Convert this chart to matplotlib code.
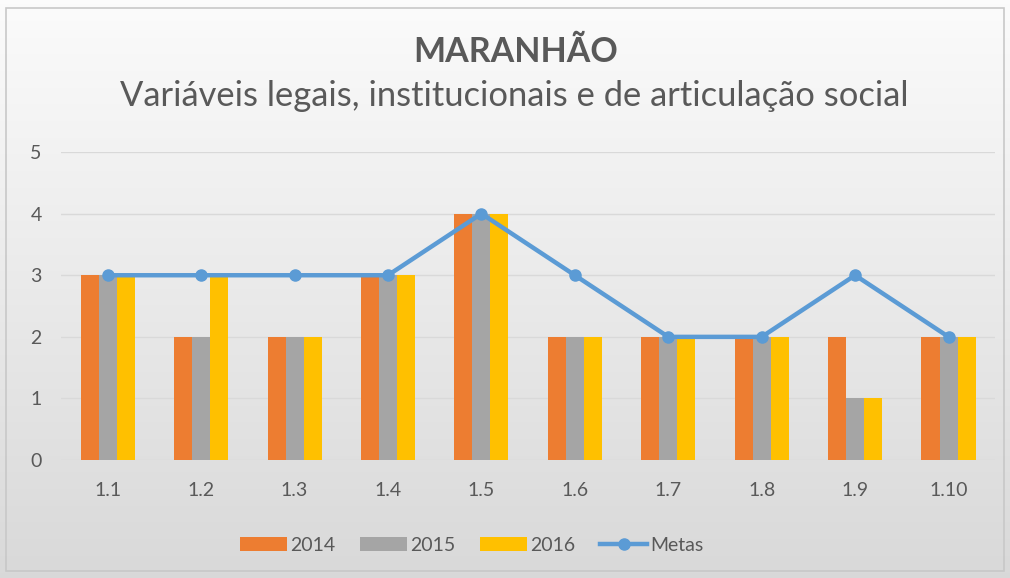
import matplotlib.pyplot as plt
import numpy as np
from matplotlib.patches import Rectangle

plt.rcParams['font.family'] = ['Lato', 'DejaVu Sans']

# data
categories = ['1.1', '1.2', '1.3', '1.4', '1.5', '1.6', '1.7', '1.8', '1.9', '1.10']
v2014 = [3, 2, 2, 3, 4, 2, 2, 2, 2, 2]
v2015 = [3, 2, 2, 3, 4, 2, 2, 2, 1, 2]
v2016 = [3, 3, 2, 3, 4, 2, 2, 2, 1, 2]
metas = [3, 3, 3, 3, 4, 3, 2, 2, 3, 2]

fig = plt.figure(figsize=(10.1, 5.78), dpi=100)

# gradient background like the excel chart area
bg = fig.add_axes([0, 0, 1, 1], zorder=-10)
grad = np.linspace(0.985, 0.85, 256).reshape(-1, 1)
bg.imshow(np.dstack([grad, grad, grad]), aspect='auto', extent=[0, 1, 0, 1])
bg.add_patch(Rectangle((0.006, 0.012), 0.988, 0.975, fill=False, ec='#c8c8c8', lw=1.2))
bg.set_xlim(0, 1)
bg.set_ylim(0, 1)
bg.axis('off')

ax = fig.add_axes([0.0604, 0.204, 0.925, 0.533])
ax.patch.set_alpha(0)

x = np.arange(len(categories))
w = 0.193
b1 = ax.bar(x - w, v2014, w, color='#ED7D31', label='2014', zorder=2)
b2 = ax.bar(x, v2015, w, color='#A5A5A5', label='2015', zorder=2)
b3 = ax.bar(x + w, v2016, w, color='#FFC000', label='2016', zorder=2)
ln, = ax.plot(x, metas, color='#5B9BD5', lw=3.2, marker='o', ms=8, label='Metas', zorder=3)

ax.set_xlim(-0.5, len(categories) - 0.5)
ax.set_ylim(0, 5)
ax.set_yticks(range(6))
ax.set_xticks(x)
ax.set_xticklabels(categories)
ax.grid(axis='y', color='#d9d9d9', lw=1, zorder=0)
for s in ax.spines.values():
    s.set_visible(False)
ax.tick_params(length=0, labelsize=14, colors='#595959')
ax.tick_params(axis='y', pad=14)
ax.tick_params(axis='x', pad=16)

fig.text(0.511, 0.91, 'MARANHÃO', ha='center', va='center', fontsize=24.5,
         fontweight='bold', color='#595959')
fig.text(0.509, 0.834, 'Variáveis legais, institucionais e de articulação social',
         ha='center', va='center', fontsize=24.8, color='#595959')

leg = fig.legend([b1, b2, b3, ln], ['2014', '2015', '2016', 'Metas'],
                 loc='center', bbox_to_anchor=(0.467, 0.057), ncol=4, frameon=False,
                 fontsize=14, handlelength=2.4, handleheight=0.7, handletextpad=0.15,
                 columnspacing=1.3)
for t in leg.get_texts():
    t.set_color('#595959')

fig.savefig('out.png', dpi=100)
